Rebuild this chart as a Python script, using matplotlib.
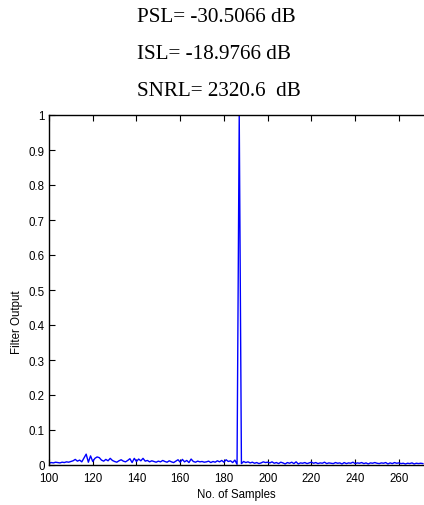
import matplotlib
matplotlib.use("Agg")
import matplotlib.pyplot as plt

# matched filter output, samples 100..271
samples = list(range(100, 272))
output = [
    0.005, 0.007, 0.006, 0.008, 0.007, 0.006, 0.008, 0.007, 0.009, 0.008,
    0.010, 0.012, 0.016, 0.011, 0.014, 0.009, 0.020, 0.031, 0.008, 0.026,
    0.010, 0.019, 0.023, 0.021, 0.014, 0.011, 0.016, 0.012, 0.019, 0.013,
    0.010, 0.008, 0.012, 0.015, 0.011, 0.009, 0.013, 0.018, 0.007, 0.019,
    0.010, 0.017, 0.012, 0.019, 0.011, 0.013, 0.009, 0.012, 0.010, 0.008,
    0.011, 0.009, 0.013, 0.010, 0.008, 0.012, 0.009, 0.007, 0.011, 0.015,
    0.008, 0.016, 0.009, 0.013, 0.007, 0.017, 0.010, 0.008, 0.011, 0.009,
    0.010, 0.008, 0.009, 0.011, 0.007, 0.010, 0.008, 0.012, 0.009, 0.013,
    0.008, 0.015, 0.010, 0.012, 0.007, 0.014, 0.002, 1.000, 0.004, 0.010,
    0.007, 0.009, 0.006, 0.008, 0.005, 0.007, 0.004, 0.006, 0.009, 0.007,
    0.008, 0.006, 0.009, 0.005, 0.007, 0.004, 0.008, 0.006, 0.003, 0.007,
    0.005, 0.008, 0.004, 0.009, 0.003, 0.006, 0.005, 0.007, 0.004, 0.006,
    0.008, 0.005, 0.007, 0.004, 0.006, 0.005, 0.008, 0.004, 0.006, 0.005,
    0.004, 0.007, 0.005, 0.006, 0.003, 0.007, 0.004, 0.006, 0.005, 0.008,
    0.004, 0.006, 0.005, 0.007, 0.004, 0.006, 0.003, 0.006, 0.005, 0.007,
    0.005, 0.004, 0.006, 0.005, 0.007, 0.003, 0.006, 0.004, 0.007, 0.005,
    0.006, 0.004, 0.005, 0.003, 0.005, 0.004, 0.006, 0.003, 0.005, 0.004,
    0.005, 0.004,
]
header = ["PSL= -30.5066 dB", "ISL= -18.9766 dB", "SNRL= 2320.6  dB"]
header_base = [22, 59, 96]  # baselines, px from top
xticks = list(range(100, 261, 20))
yticks = [i / 10 for i in range(11)]
ytick_labels = ["0"] + [f"{v:g}" for v in yticks[1:-1]] + ["1"]

W, H = 424, 506
fig = plt.figure(figsize=(W / 100, H / 100), dpi=100)
ax = fig.add_axes([49 / W, 40 / H, 1 - 49 / W, (466 - 116) / H])

ax.plot(samples, output, color="#0000ff", lw=1.0)
ax.set_xlim(100, 271.5)
ax.set_ylim(0, 1)

ax.set_xticks(xticks)
ax.set_yticks(yticks)
ax.set_yticklabels(ytick_labels)
ax.tick_params(direction="in", length=4, width=0.8, labelsize=8.3,
               top=True, right=False, pad=3,
               labelfontfamily="Liberation Sans")
ax.tick_params(axis="x", pad=5)
ax.spines["right"].set_visible(False)
for s in ("left", "bottom", "top"):
    ax.spines[s].set_linewidth(1.0)

ax.set_xlabel("No. of Samples", fontsize=8.3, family="Liberation Sans",
              labelpad=3)
ax.set_ylabel("Filter Output", fontsize=8.3, family="Liberation Sans")
ax.yaxis.set_label_coords(-0.07, 0.41)

for txt, yb in zip(header, header_base):
    fig.text(137 / W, 1 - yb / H, txt, ha="left", va="baseline",
             fontsize=15.2, family="Liberation Serif")

fig.savefig("out.png", dpi=100)
